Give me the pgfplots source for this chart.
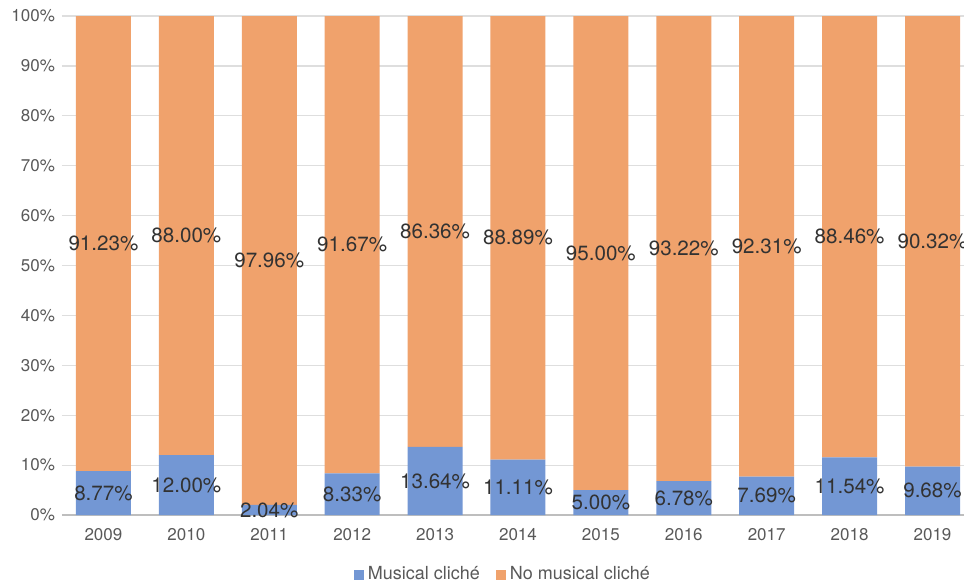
\documentclass[border=0pt]{standalone}
\usepackage{pgfplots}
\usepackage{pgfplotstable}
\pgfplotsset{compat=1.18}
\usepackage{fontspec}
\setmainfont{TeX Gyre Heros}
\usetikzlibrary{calc}

\definecolor{cliche}{RGB}{115,151,212}
\definecolor{nocliche}{RGB}{240,162,108}
\definecolor{ticktext}{RGB}{89,89,89}
\definecolor{labeltext}{RGB}{50,50,50}
\definecolor{gridgray}{RGB}{222,222,222}
\definecolor{basegray}{RGB}{190,190,190}

\pgfplotstableread{
x year blue orange
0 2009 8.77 91.23
1 2010 12.00 88.00
2 2011 2.04 97.96
3 2012 8.33 91.67
4 2013 13.64 86.36
5 2014 11.11 88.89
6 2015 5.00 95.00
7 2016 6.78 93.22
8 2017 7.69 92.31
9 2018 11.54 88.46
10 2019 9.68 90.32
}\datatable

% labels in the middle of each segment
\pgfplotsset{seglabel/.style={
  point meta=\thisrow{#1},
  nodes near coords={\pgfmathprintnumber[fixed,fixed zerofill,precision=2]{\pgfplotspointmeta}\%},
  nodes near coords align={center},
  every node near coord/.append style={anchor=center,
    font=\fontsize{10.3}{12}\selectfont, text=labeltext},
}}

\begin{document}
\begin{tikzpicture}
\begin{axis}[
  scale only axis, width=451pt, height=249.5pt,
  ybar stacked, bar width=27.5pt,
  xmin=-0.5, xmax=10.38, ymin=0, ymax=100,
  xtick=data, xticklabels from table={\datatable}{year},
  ytick={10,20,...,100}, yticklabel={\pgfmathprintnumber{\tick}\%},
  extra y ticks={0}, extra y tick labels={0\%},
  extra y tick style={grid style={basegray, line width=0.7pt}},
  ymajorgrids, grid style={gridgray, line width=0.6pt},
  axis line style={draw=none}, major tick style={draw=none},
  tick label style={font=\fontsize{8.5}{10}\selectfont, text=ticktext},
  xticklabel style={yshift=-3pt},
  /pgf/number format/assume math mode=true,
  legend style={at={(0.49,-0.12)}, anchor=center, draw=none, legend columns=2,
    font=\fontsize{9}{11}\selectfont, text=ticktext,
    /tikz/every even column/.append style={column sep=6pt}},
  legend image code/.code={\fill[#1] (0pt,-2.5pt) rectangle (5pt,2.5pt);},
]
\addplot[fill=cliche, draw=none, seglabel=blue] table[x=x, y=blue] {\datatable};
\addplot[fill=nocliche, draw=none, seglabel=orange] table[x=x, y=orange] {\datatable};
\legend{Musical cliché, No musical cliché}
\end{axis}
\pgfresetboundingbox
\path ($(current axis.south west)+(-31pt,-35pt)$) rectangle ($(current axis.north east)+(0pt,8pt)$);
\end{tikzpicture}
\end{document}
